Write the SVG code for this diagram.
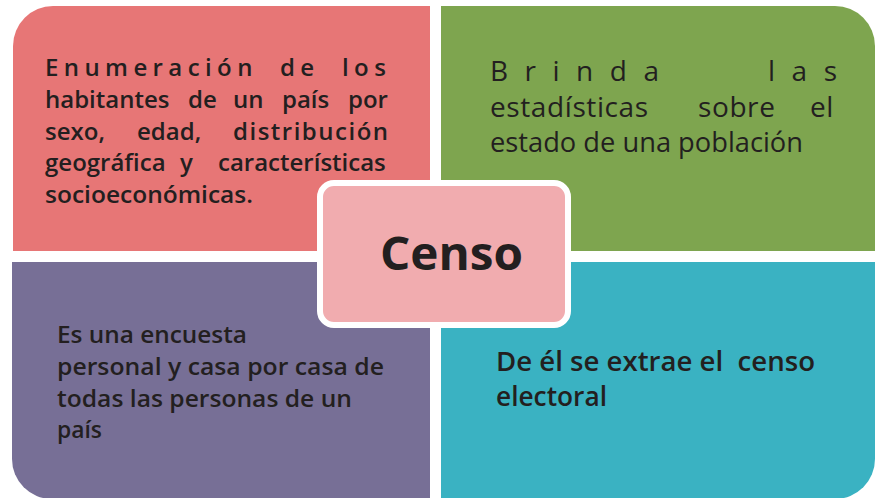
<svg xmlns="http://www.w3.org/2000/svg" width="875" height="498" viewBox="0 0 875 498">
<style>
.t{font-family:"Open Sans","Noto Sans","Liberation Sans",sans-serif;fill:#231F20;}
.sb{font-weight:600;font-size:24px;}
.rg{font-weight:500;font-size:28px;}
.pu{font-weight:600;font-size:23px;}
.te{font-weight:600;font-size:26.5px;}
.big{font-weight:700;font-size:46px;}
</style>
<rect width="875" height="498" fill="#FFFFFF"/>
<g id="q-red">
<path d="M13,251 V46 A40,40 0 0 1 53,6 H430 V251 Z" fill="#E77676"/>
<text class="t sb" y="76" letter-spacing="5.4"><tspan x="45">Enumeración</tspan><tspan x="280">de</tspan><tspan x="342">los</tspan></text>
<text class="t sb" y="108"><tspan x="45">habitantes</tspan><tspan x="188">de</tspan><tspan x="233">un</tspan><tspan x="282">país</tspan><tspan x="348">por</tspan></text>
<text class="t sb" y="140"><tspan x="45">sexo,</tspan><tspan x="137">edad,</tspan><tspan x="233" letter-spacing="1.5">distribución</tspan></text>
<text class="t sb" y="171"><tspan x="45">geográfica</tspan><tspan x="180">y</tspan><tspan x="218">características</tspan></text>
<text class="t sb" x="45" y="203" textLength="208" lengthAdjust="spacingAndGlyphs">socioeconómicas.</text>
</g>
<g id="q-green">
<path d="M441,6 H835 A40,40 0 0 1 875,46 V251 H441 Z" fill="#7EA54F"/>
<text class="t rg" y="81" letter-spacing="16.5"><tspan x="490">Brinda</tspan><tspan x="768">las</tspan></text>
<text class="t rg" y="117" letter-spacing="0.6"><tspan x="490">estadísticas</tspan><tspan x="698">sobre</tspan><tspan x="810">el</tspan></text>
<text class="t rg" x="490" y="152" textLength="313" lengthAdjust="spacingAndGlyphs">estado de una población</text>
</g>
<g id="q-purple">
<path d="M12,262 H430 V499 H52 A40,40 0 0 1 12,459 Z" fill="#776F96"/>
<text class="t pu" x="57" y="343" textLength="190" lengthAdjust="spacingAndGlyphs">Es una encuesta</text>
<text class="t pu" x="57" y="375" textLength="327" lengthAdjust="spacingAndGlyphs">personal y casa por casa de</text>
<text class="t pu" x="57" y="407" textLength="295" lengthAdjust="spacingAndGlyphs">todas las personas de un</text>
<text class="t pu" x="57" y="438" textLength="45" lengthAdjust="spacingAndGlyphs">país</text>
</g>
<g id="q-teal">
<path d="M441,262 H875 V459 A40,40 0 0 1 835,499 H441 Z" fill="#3AB2C2"/>
<text class="t te" x="496" y="371" xml:space="preserve" textLength="319" lengthAdjust="spacingAndGlyphs">De él se extrae el  censo</text>
<text class="t te" x="496" y="406" textLength="111" lengthAdjust="spacingAndGlyphs">electoral</text>
</g>
<g id="center">
<rect x="320" y="183" width="248" height="142" rx="14" ry="14" fill="#F1ACAF" stroke="#FFFFFF" stroke-width="6"/>
<text class="t big" x="451.5" y="270" text-anchor="middle" textLength="143" lengthAdjust="spacingAndGlyphs">Censo</text>
</g>
<g id="connectors"></g>
</svg>
